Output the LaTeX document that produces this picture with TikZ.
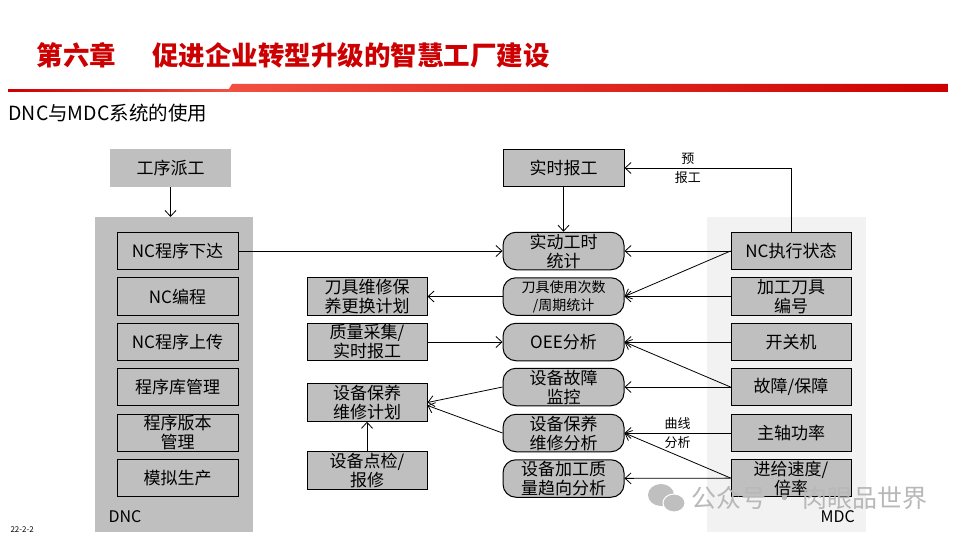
\documentclass[tikz,border=0pt]{standalone}
\usepackage{fontspec}
\setmainfont{Noto Sans CJK SC}
\usetikzlibrary{arrows.meta}
\definecolor{titlered}{RGB}{204,0,0}
\definecolor{barlight}{RGB}{242,80,66}
\definecolor{boxgray}{RGB}{191,191,191}
\definecolor{panellight}{RGB}{242,242,242}

\begin{document}
\begin{tikzpicture}[x=1pt,y=-1pt]
    % DNC / MDC data flow on one slide, pixel grid 960x540 (y downwards)

    \tikzset{
      panel/.style={rectangle, inner sep=0pt, anchor=north west},
      greybox/.style={rectangle, draw=black, line width=1pt, fill=boxgray,
        minimum width=121pt, minimum height=37.5pt, inner sep=0pt,
        align=center, font=\fontsize{17}{19}\selectfont},
      roundbox/.style={greybox, rounded corners=13pt},
      link/.style={-{Straight Barb[length=6pt,width=11pt]}, line width=0.8pt},
      tag/.style={font=\fontsize{13}{19}\selectfont, align=center, inner sep=0pt}
    }

    \useasboundingbox (0,0) rectangle (960,540);

    % --- Title and red rule
    \node[anchor=west, text=titlered, font=\fontsize{26.5}{30}\selectfont\bfseries]
      (title) at (33,55) {第六章\hspace{36pt}促进企业转型升级的智慧工厂建设};
    \shade[left color=titlered, right color=barlight] (8,89.5) rectangle (230,92);
    \shade[left color=barlight, right color=titlered]
      (227,92) -- (232,84) -- (948,84) -- (948,92) -- cycle;
    \node[anchor=west, font=\fontsize{19.5}{21}\selectfont] (subtitle) at (5,113) {DNC与MDC系统的使用};
    \node[anchor=west, font=\fontsize{8}{9}\selectfont] (date) at (7,530) {22-2-2};

    % --- Panels
    \node[panel, fill=boxgray, minimum width=158pt, minimum height=315pt] (dncpanel) at (95,217) {};
    \node[panel, fill=panellight, minimum width=159pt, minimum height=315pt] (mdcpanel) at (707,217) {};
    \node[anchor=west, font=\fontsize{16}{18}\selectfont] (dnclabel) at (105,517) {DNC};
    \node[anchor=west, font=\fontsize{16}{18}\selectfont] (mdclabel) at (817,517) {MDC};

    % --- DNC column
    \node[greybox, draw=none] (dispatch) at (170.5,168) {工序派工};
    \node[greybox] (ncdown)  at (177.5,251)   {NC程序下达};
    \node[greybox] (ncprog)  at (177.5,296.5) {NC编程};
    \node[greybox] (ncup)    at (177.5,342)   {NC程序上传};
    \node[greybox] (libmgr)  at (177.5,387)   {程序库管理};
    \node[greybox] (vermgr)  at (177.5,433)   {程序版本\\管理};
    \node[greybox] (simprod) at (177.5,478)   {模拟生产};

    % --- Planning column
    \node[greybox, minimum width=120pt] (toolplan)  at (367,296.5) {刀具维修保\\养更换计划};
    \node[greybox, minimum width=120pt] (qualrep)   at (367,342)   {质量采集/\\实时报工};
    \node[greybox, minimum width=120pt] (maintplan) at (367,402.5) {设备保养\\维修计划};
    \node[greybox, minimum width=120pt] (inspect)   at (367,470.5) {设备点检/\\报修};

    % --- Analysis column
    \node[greybox] (report) at (563.5,168) {实时报工};
    \node[roundbox] (worktime)  at (563.5,251)   {实动工时\\统计};
    \node[roundbox, font=\fontsize{14}{18}\selectfont] (toolcount) at (563.5,296.5) {刀具使用次数\\/周期统计};
    \node[roundbox] (oee)       at (563.5,342)   {OEE分析};
    \node[roundbox] (faultmon)  at (563.5,387)   {设备故障\\监控};
    \node[roundbox] (maintana)  at (563.5,433)   {设备保养\\维修分析};
    \node[roundbox] (qualtrend) at (563.5,478.5) {设备加工质\\量趋向分析};

    % --- MDC column
    \node[greybox, minimum width=120pt] (ncstate) at (791,251)   {NC执行状态};
    \node[greybox, minimum width=120pt] (toolno)  at (791,296.5) {加工刀具\\编号};
    \node[greybox, minimum width=120pt] (power)   at (791,342)   {开关机};
    \node[greybox, minimum width=120pt] (fault)   at (791,387)   {故障/保障};
    \node[greybox, minimum width=120pt] (spindle) at (791,433)   {主轴功率};
    \node[greybox, minimum width=120pt] (feed)    at (791,478)   {进给速度/\\倍率};

    % --- Connectors
    \draw[link] (dispatch.south) -- (dispatch.south |- dncpanel.north);
    \draw[link] (ncdown) -- (worktime);
    \draw[link] (report) -- (worktime);
    \draw[link] (ncstate.north) |- node[tag, pos=0.81] {预\\报工} (report.east);
    \draw[link] (ncstate) -- (worktime);
    \draw[link] (ncstate.west) -- (toolcount.east);
    \draw[link] (toolno) -- (toolcount);
    \draw[link] (toolcount) -- (toolplan);
    \draw[link] (qualrep) -- (oee);
    \draw[link] (power) -- (oee);
    \draw[link] (fault.west) -- (oee.east);
    \draw[link] (fault) -- (faultmon);
    \draw[link] (spindle) -- node[tag] {曲线\\分析} (maintana);
    \draw[link] (feed.west) -- (maintana.east);
    \draw[link] (feed) -- (qualtrend);
    \draw[link] (faultmon.west) -- (maintplan.east);
    \draw[link] (maintana.west) -- ([yshift=-3pt]maintplan.east);
    \draw[link] (inspect) -- (maintplan);

    % --- Watermark
    \fill[black!25] (661,495) ellipse (13 and 11);
    \filldraw[black!25, draw=white, line width=1pt] (674,503) ellipse (11 and 9);
    \node[anchor=west, text=black!28, font=\fontsize{25}{28}\selectfont] (mark) at (688,498) {公众号 · 肉眼品世界};
\end{tikzpicture}
\end{document}
